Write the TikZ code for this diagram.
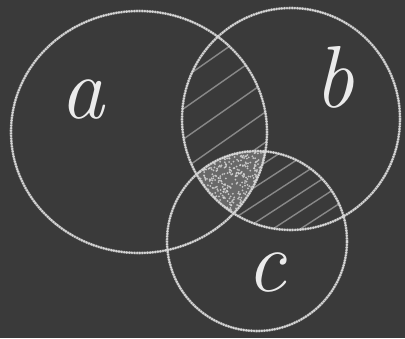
\documentclass[tikz,border=0pt]{standalone}
\usetikzlibrary{calc}
\definecolor{board}{RGB}{58,58,58}
\definecolor{chalk}{RGB}{214,214,214}
\definecolor{letterchalk}{RGB}{235,235,235}
\tikzset{
  chalkline/.style={draw=chalk, line width=2.7pt, dash pattern=on 0pt off 2.6pt, line cap=round},
  chalkbase/.style={draw=chalk, line width=2.6pt, opacity=0.4},
  hatchline/.style={draw=chalk, line width=1.4pt, opacity=0.5, line cap=round},
  letter/.style={text=letterchalk, font=\fontsize{88}{88}\selectfont\itshape, inner sep=0pt},
}
\begin{document}
\begin{tikzpicture}[x=1pt,y=-1pt]
\useasboundingbox (0,0) rectangle (405,338);
\fill[board] (0,0) rectangle (405,338);
\def\circA{(139,132) ellipse [x radius=128pt, y radius=121pt]}
\def\circB{(291,119) ellipse [x radius=109pt, y radius=111pt]}
\def\circC{(257,241) ellipse [x radius=90pt, y radius=90pt]}
% hatching a and b
\begin{scope}
  \clip \circA; \clip \circB;
  \foreach \k in {-6,...,6} {
    \draw[hatchline] (225+\k*14,110+\k*20.5) ++(-160,112) -- ++(320,-224);
  }
\end{scope}
% hatching b and c
\begin{scope}
  \clip \circB; \clip \circC;
  \foreach \k in {-8,...,8} {
    \draw[hatchline] (290+\k*8.2,200+\k*12.5) ++(-160,104) -- ++(320,-208);
  }
\end{scope}
% triple region stipple
\begin{scope}
  \clip \circA; \clip \circB; \clip \circC;
  \fill[board] (150,120) rectangle (300,260);
  \fill[chalk, opacity=0.3] (150,120) rectangle (300,260);
  \pgfmathsetseed{7}
  \foreach \i in {1,...,700} {
    \pgfmathsetmacro{\px}{190+rnd*90}
    \pgfmathsetmacro{\py}{140+rnd*75}
    \fill[chalk, opacity=0.85] (\px,\py) circle (1pt);
  }
\end{scope}
% circles
\draw[chalkbase] \circA; \draw[chalkline] \circA;
\draw[chalkbase] \circB; \draw[chalkline] \circB;
\draw[chalkbase] \circC; \draw[chalkline] \circC;
% labels
\node[letter] (la) at (82,100) {a};
\node[letter] (lb) at (334,77) {b};
\node[letter] (lc) at (266,273) {c};
\end{tikzpicture}
\end{document}
